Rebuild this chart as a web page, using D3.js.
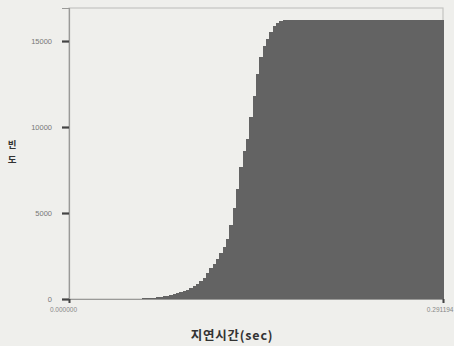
<!DOCTYPE html>
<html>
<head>
<meta charset="utf-8">
<script src="https://cdn.jsdelivr.net/npm/d3@7"></script>
<style>
  body { margin: 0; background: #efefec; }
  svg { display: block; }
</style>
</head>
<body>
<div id="chart"></div>
<script>
// cumulative frequency per delay bin (112 bins from 0 to 0.291194 sec)
var xMax = 0.291194;
var binCount = 112;
var leadingZeros = 22;
var risingCounts = [
  30, 40, 55, 70, 90, 120, 150, 190, 230, 280, 340, 400, 470, 550, 640,
  760, 900, 1060, 1250, 1500, 1780, 2050, 2350, 2650, 3050, 3500, 4300,
  5300, 6400, 7700, 8600, 9300, 10600, 11800, 13100, 14100, 14700, 15100,
  15500, 15850, 16050, 16150, 16200
];
var plateauCount = 16220;
var yTicks = [0, 5000, 10000, 15000];
var xTickLabels = ["0.000000", "0.291194"];
var xLabel = "지연시간(sec)";
var yLabel = ["빈", "도"];

var counts = [];
for (var i = 0; i < binCount; i++) {
  if (i < leadingZeros) counts.push(0);
  else if (i < leadingZeros + risingCounts.length) counts.push(risingCounts[i - leadingZeros]);
  else counts.push(plateauCount);
}
var binWidth = xMax / binCount;
var data = counts.map(function(c, i) {
  return { x0: i * binWidth, x1: (i + 1) * binWidth, y: c };
});

var width = 454, height = 346;
var margin = { top: 8, right: 11, bottom: 47, left: 69 };
var w = width - margin.left - margin.right,
  h = height - margin.top - margin.bottom;

var x = d3.scaleLinear().domain([0, xMax]).range([0, w]);
var y = d3.scaleLinear().domain([0, 16920]).range([h, 0]);

var svg = d3
  .select("#chart")
  .append("svg")
  .attr("width", width)
  .attr("height", height)
  .style("font-family", "'Liberation Sans', Arial, sans-serif");

var g = svg.append("g").attr("transform", "translate(" + margin.left + "," + margin.top + ")");

// frame
g.append("rect")
  .attr("width", w)
  .attr("height", h)
  .attr("fill", "none")
  .attr("stroke", "#c4c4c2")
  .attr("stroke-width", 1.2);

// bars
g.append("g")
  .attr("shape-rendering", "crispEdges")
  .selectAll("rect")
  .data(data.filter(function(d) { return d.y > 0; }))
  .enter()
  .append("rect")
  .attr("x", function(d) { return x(d.x0); })
  .attr("width", function(d) { return x(d.x1) - x(d.x0) + 1; })
  .attr("y", function(d) { return y(d.y); })
  .attr("height", function(d) { return h - y(d.y); })
  .attr("fill", "#636363");

// y axis
var yAxis = g.append("g").call(
  d3.axisLeft(y).tickValues(yTicks).tickSize(7).tickPadding(10).tickFormat(d3.format("d"))
);
yAxis.select(".domain").attr("stroke", "#9a9a98").attr("stroke-width", 1.2);
yAxis.selectAll(".tick line").attr("stroke", "#444").attr("stroke-width", 2.2);
yAxis.selectAll(".tick text").attr("fill", "#777").style("font-size", "7.5px");

// x axis
var xAxis = g
  .append("g")
  .attr("transform", "translate(0," + h + ")")
  .call(
    d3.axisBottom(x)
      .tickValues([0, xMax])
      .tickSize(4)
      .tickPadding(4)
      .tickFormat(function(d, i) { return xTickLabels[i]; })
  );
xAxis.select(".domain").attr("stroke", "#9a9a98").attr("stroke-width", 1.2);
xAxis.selectAll(".tick line").attr("stroke", "#444").attr("stroke-width", 2);
xAxis.selectAll(".tick text")
  .attr("fill", "#888")
  .style("font-size", "6.5px")
  .attr("text-anchor", function(d, i) { return i === 0 ? "middle" : "end"; })
  .attr("dx", function(d, i) { return i === 0 ? -6 : 10; });

// axis titles
svg.append("text")
  .attr("x", 232)
  .attr("y", 340)
  .attr("text-anchor", "middle")
  .attr("fill", "#333")
  .style("font-size", "12.5px")
  .style("letter-spacing", "0.8px")
  .style("font-weight", "bold")
  .style("font-family", "'Noto Sans CJK KR', sans-serif")
  .text(xLabel);

// y title: stacked upright glyphs
svg.append("g")
  .selectAll("text")
  .data(yLabel)
  .enter()
  .append("text")
  .attr("x", 12)
  .attr("y", function(d, i) { return 148 + i * 14.5; })
  .attr("text-anchor", "middle")
  .attr("fill", "#333")
  .style("font-size", "9.5px")
  .style("font-weight", "bold")
  .style("font-family", "'Noto Sans CJK KR', sans-serif")
  .text(function(d) { return d; });
</script>
</body>
</html>
